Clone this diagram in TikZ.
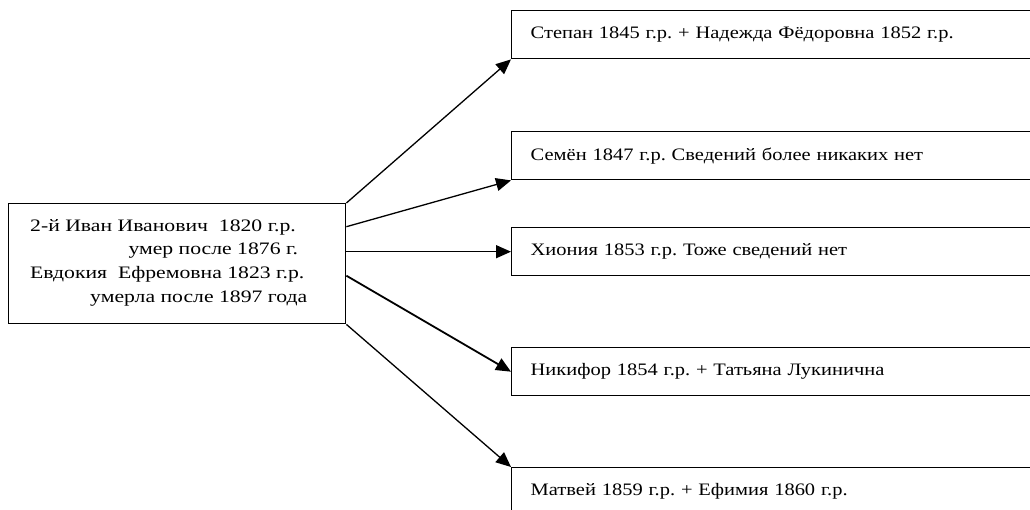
\documentclass[tikz,border=0pt]{standalone}
\usepackage{fontspec}
\setmainfont{Liberation Serif}[FakeStretch=1.17]
\newfontfamily\mainboxfont{Liberation Serif}[FakeStretch=1.24]
\usetikzlibrary{arrows.meta,calc}
\begin{document}
\frenchspacing
\begin{tikzpicture}[x=1pt,y=-1pt,
  every node/.style={font=\fontsize{17.5}{21}\selectfont},
  box/.style={draw,line width=1.4pt,rectangle,inner sep=0pt},
  child/.style={draw,line width=1.4pt,rectangle,anchor=north west,minimum height=48pt,
    text width=500pt,inner xsep=19pt,inner ysep=0pt,align=left},
  line/.style={anchor=base west,inner sep=0pt,font=\mainboxfont\fontsize{17.5}{21}\selectfont},
  conn/.style={line width=1.3pt,-{Triangle[length=15pt,width=13pt]}}]
\useasboundingbox (0,0) rectangle (1030,510);
\clip (0,0) rectangle (1030,510);
\fill[white] (0,0) rectangle (1030,510);
\node[box,minimum width=337pt,minimum height=120pt,anchor=north west] (main) at (8,203) {};
\node[line] (l1) at (30,231.7) {2-й Иван Иванович\ \ 1820 г.р.};
\node[line] (l2) at (128.3,254.3) {умер после 1876 г.};
\node[line] (l3) at (30,278.3) {Евдокия\ \ Ефремовна 1823 г.р.};
\node[line] (l4) at (90,302.3) {умерла после 1897 года};
\node[child] (c1) at (511,10) {Степан 1845 г.р. + Надежда Фёдоровна 1852 г.р.};
\node[child] (c2) at (511,131) {Семён 1847 г.р. Сведений более никаких нет};
\node[child] (c3) at (511,227) {Хиония 1853 г.р. Тоже сведений нет};
\node[child] (c4) at (511,347) {Никифор 1854 г.р. + Татьяна Лукинична};
\node[child] (c5) at (511,467) {Матвей 1859 г.р. + Ефимия 1860 г.р.};
\draw[conn] (main.north east) -- (c1.south west);
\draw[conn] ([yshift=37pt]main.east) -- (c2.south west);
\draw[conn] (main.east |- c3.west) -- (c3.west);
\draw[conn,line width=1.8pt] ([yshift=-12pt]main.east) -- (c4.west);
\draw[conn] (main.south east) -- (c5.north west);
\end{tikzpicture}
\end{document}
